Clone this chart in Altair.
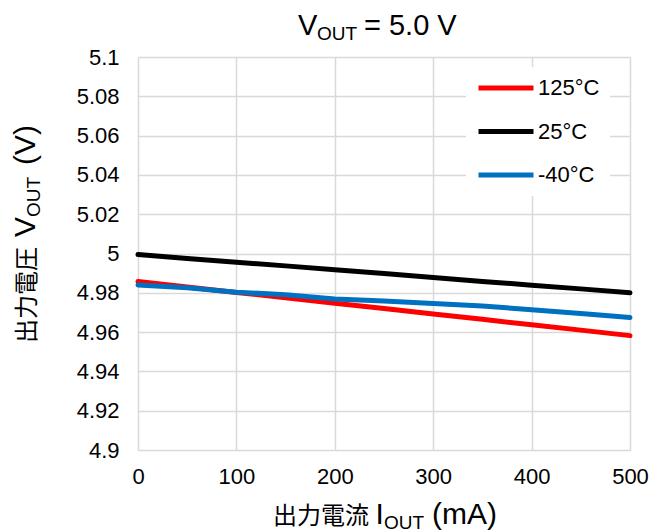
import altair as alt
import pandas as pd

# ---- data ----
current_ma = [0, 50, 100, 150, 200, 250, 300, 350, 400, 450, 500]
v_125 = [4.9857, 4.9830, 4.9802, 4.9775, 4.9747, 4.9720, 4.9692, 4.9665, 4.9637, 4.9610, 4.9582]
v_25 = [4.9995, 4.9975, 4.9956, 4.9937, 4.9917, 4.9898, 4.9878, 4.9858, 4.9839, 4.9820, 4.9800]
v_m40 = [4.9840, 4.9826, 4.9803, 4.9790, 4.9768, 4.9758, 4.9745, 4.9733, 4.9714, 4.9695, 4.9674]
series_names = ["125°C", "25°C", "-40°C"]
series_colors = ["#FF0000", "#000000", "#0070C0"]
x_ticks = [0, 100, 200, 300, 400, 500]
y_ticks = [4.9, 4.92, 4.94, 4.96, 4.98, 5.0, 5.02, 5.04, 5.06, 5.08, 5.1]

title_parts = ["V", "OUT", "= 5.0 V"]
xtitle_parts = ["出力電流", "I", "OUT", "(mA)"]
ytitle_parts = ["出力電圧", "V", "OUT", "(V)"]

FONT = "Liberation Sans, Arial, Noto Sans CJK JP"
CJK = "Noto Sans CJK JP"

rows = []
for name, vals in zip(series_names, [v_125, v_25, v_m40]):
    for i, v in zip(current_ma, vals):
        rows.append({"I": i, "V": v, "series": name})
df = pd.DataFrame(rows)

lines = alt.Chart(df).mark_line(strokeWidth=5, strokeCap="round", strokeJoin="round").encode(
    x=alt.X("I:Q", scale=alt.Scale(domain=[0, 500], nice=False),
            axis=alt.Axis(values=x_ticks, title=None, labelFontSize=22, labelFont=FONT,
                          labelColor="#000000", labelPadding=16, ticks=False, domain=False,
                          labelFlush=False,
                          grid=True, gridColor="#d9d9d9", gridWidth=1.5)),
    y=alt.Y("V:Q", scale=alt.Scale(domain=[4.9, 5.1], nice=False, zero=False),
            axis=alt.Axis(values=y_ticks, title=None, labelFontSize=22, labelFont=FONT,
                          labelColor="#000000", labelPadding=19, ticks=False, domain=False,
                          labelFlush=False,
                          grid=True, gridColor="#d9d9d9", gridWidth=1.5,
                          labelExpr="format(datum.value, '~g')")),
    color=alt.Color("series:N",
                    scale=alt.Scale(domain=series_names, range=series_colors),
                    legend=alt.Legend(title=None, orient="none", legendX=328, legendY=10,
                                      symbolType="stroke", symbolSize=3025, symbolStrokeWidth=5,
                                      clipHeight=22, rowPadding=21.5, labelFontSize=22,
                                      labelFont=FONT, labelColor="#000000", labelOffset=2,
                                      fillColor="white", padding=10)),
)


def txt(s, x, y, size, angle=0, font=FONT):
    return alt.Chart(pd.DataFrame({"t": [s]})).mark_text(
        align="left", baseline="alphabetic", font=font, fontSize=size, color="#000000",
        angle=angle,
    ).encode(text="t:N", x=alt.value(x), y=alt.value(y))


layers = [
    lines,
    # chart title
    txt(title_parts[0], 160, -22, 29),
    txt(title_parts[1], 179, -17, 19),
    txt(title_parts[2], 226, -22, 29),
    # x axis title
    txt(xtitle_parts[0], 135, 467, 24, font=CJK),
    txt(xtitle_parts[1], 237.5, 467, 30),
    txt(xtitle_parts[2], 246, 472, 19),
    txt(xtitle_parts[3], 294, 467, 30),
    # y axis title (rotated)
    txt(ytitle_parts[0], -103.5, 286, 24, 270, font=CJK),
    txt(ytitle_parts[1], -103.5, 180, 30, 270),
    txt(ytitle_parts[2], -98.5, 160, 19, 270),
    txt(ytitle_parts[3], -103.5, 108, 30, 270),
]

chart = alt.layer(*layers).properties(
    width=492, height=393,
    padding={"left": 138, "top": 57, "right": 37, "bottom": 82},
    autosize="none",
).configure_view(stroke=None).configure(background="white")

chart.save("out.html", embed_options={"renderer": "svg", "actions": False})
